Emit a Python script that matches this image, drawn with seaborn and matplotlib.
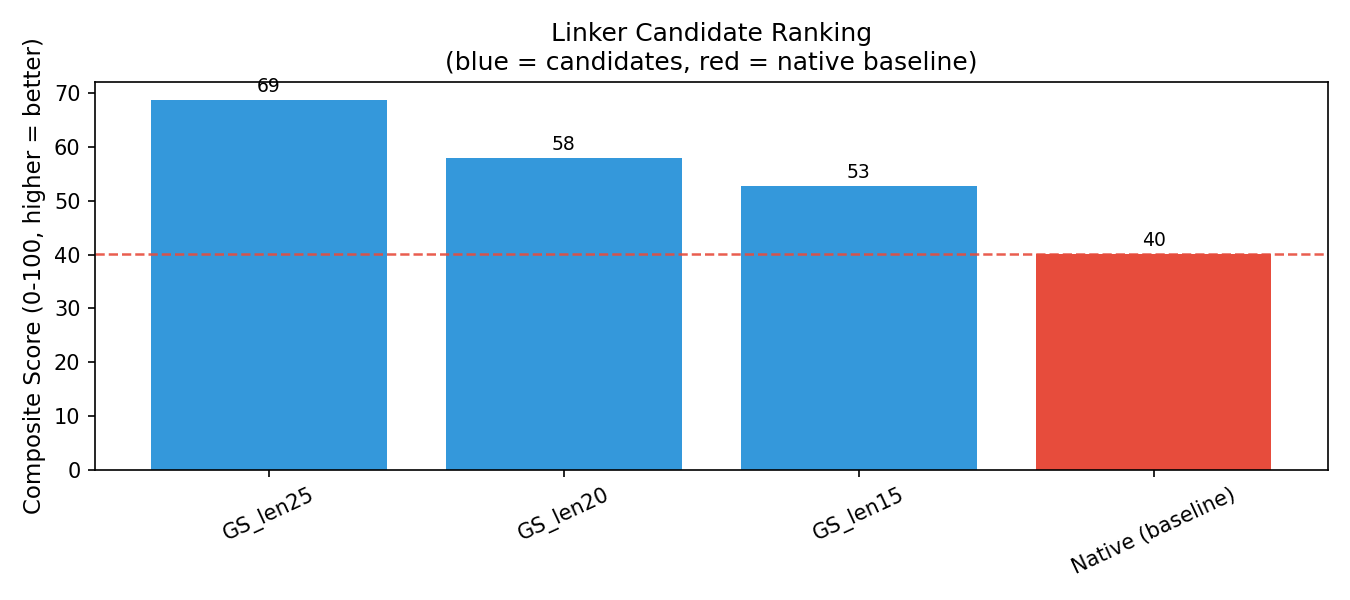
import seaborn as sns
import pandas as pd
from matplotlib import pyplot as plt

# candidate names and composite scores
linkers = ["GS_len25", "GS_len20", "GS_len15", "Native (baseline)"]
scores = [68.7, 57.9, 52.7, 40.1]
baseline_score = 40.1

df = pd.DataFrame({"Linker": linkers, "Score": scores})
colors = ["#3498db", "#3498db", "#3498db", "#e74c3c"]

fig, ax = plt.subplots(figsize=(9, 4), dpi=150)

sns.barplot(data=df, x="Linker", y="Score", hue="Linker",
            palette=colors, legend=False, saturation=1, width=0.8, ax=ax)

ax.axhline(baseline_score, color="#e74c3c", linestyle="--", linewidth=1.2, alpha=0.9)

for i, s in enumerate(scores):
    ax.text(i, s + 0.8, f"{s:.0f}", ha="center", va="bottom", fontsize=9)

ax.set_xlim(-0.59, 3.59)
ax.set_xlabel("")
ax.set_ylabel("Composite Score (0-100, higher = better)", fontsize=11)
ax.set_title("Linker Candidate Ranking\n(blue = candidates, red = native baseline)", fontsize=12)
plt.setp(ax.get_xticklabels(), rotation=25)

plt.tight_layout()
plt.savefig("out.png", dpi=150)
